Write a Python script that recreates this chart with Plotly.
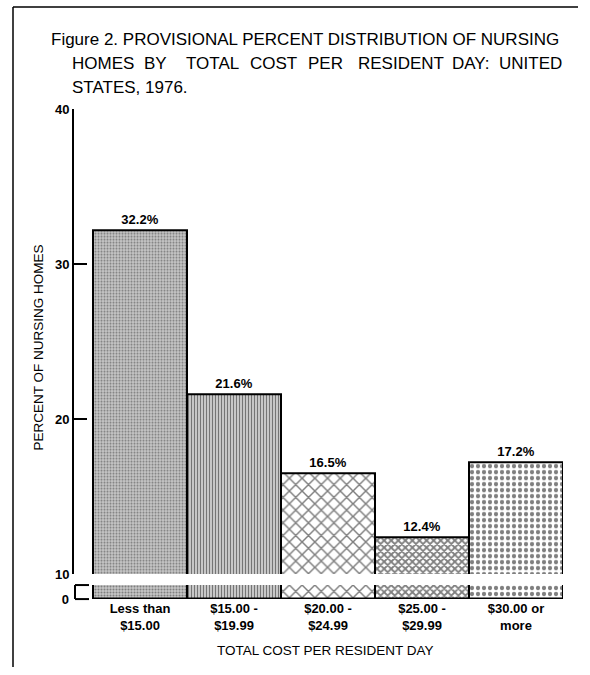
import plotly.graph_objects as go

categories = ["Less than<br>$15.00", "$15.00 -<br>$19.99", "$20.00 -<br>$24.99",
              "$25.00 -<br>$29.99", "$30.00 or<br>more"]
values = [32.2, 21.6, 16.5, 12.4, 17.2]
value_labels = ["32.2%", "21.6%", "16.5%", "12.4%", "17.2%"]
upper_ticks = [10, 20, 30, 40]
lower_ticks = [0]
lower_ticktext = ["0"]

title_line1 = "Figure 2. PROVISIONAL PERCENT DISTRIBUTION OF NURSING"
title_line2_words = ["HOMES", "BY", "TOTAL", "COST", "PER", "RESIDENT", "DAY:", "UNITED"]
title_line3 = "STATES, 1976."

W, H = 590, 675
FONT = "Liberation Sans, Arial, sans-serif"

patterns = [
    dict(shape=".", size=3, solidity=0.4, fgcolor="#333", bgcolor="#c8c8c8"),
    dict(shape="|", size=3, solidity=0.45, fgcolor="#111", bgcolor="#d8d8d8"),
    dict(shape="x", size=9, solidity=0.3, fgcolor="#000", bgcolor="#fff"),
    dict(shape="x", size=5, solidity=0.6, fgcolor="#000", bgcolor="#fff"),
    dict(shape=".", size=6, solidity=0.4, fgcolor="#000", bgcolor="#fff"),
]

def py(y):  # target pixel from top -> paper fraction (compensated)
    yy = (y - 6) / 0.976
    return 1 - yy / H

def px(x):
    return x / W

fig = go.Figure()
for i, (c, v) in enumerate(zip(categories, values)):
    fig.add_trace(go.Bar(
        x=[c], y=[v], xaxis="x", yaxis="y",
        text=[value_labels[i]], textposition="outside",
        textfont=dict(family=FONT, size=13, color="#000", weight="bold"),
        cliponaxis=False,
        marker=dict(color="#fff", pattern=patterns[i], line=dict(color="#000", width=2)),
        showlegend=False, hoverinfo="skip"))
    fig.add_trace(go.Bar(
        x=[c], y=[v], xaxis="x", yaxis="y2",
        marker=dict(color="#fff", pattern=patterns[i], line=dict(color="#000", width=2)),
        showlegend=False, hoverinfo="skip"))

fig.update_layout(
    width=W, height=H, margin=dict(l=0, r=0, t=0, b=0),
    paper_bgcolor="#fff", plot_bgcolor="rgba(0,0,0,0)",
    bargap=0, barmode="overlay",
    font=dict(family=FONT, color="#000"),
    xaxis=dict(domain=[px(73), px(563)], range=[-0.5 - 20 / 94, 4.5],
               anchor="y2", showgrid=False, zeroline=False, showline=False,
               ticks="", tickfont=dict(family=FONT, size=13, weight="bold"),
               categoryorder="array", categoryarray=categories),
    yaxis=dict(domain=[py(572), py(108)], range=[10, 40], anchor="free",
               position=px(73), showgrid=False, zeroline=False,
               showline=True, linecolor="#000", linewidth=2,
               ticks="inside", ticklen=13, tickwidth=2, tickcolor="#000",
               tickvals=upper_ticks, tickfont=dict(family=FONT, size=13, weight="bold")),
    yaxis2=dict(domain=[py(597), py(583)], range=[0, 10], anchor="free",
                position=px(75), showgrid=False, zeroline=False,
                showline=False, ticks="", ticklabelstandoff=6,
                tickvals=lower_ticks, ticktext=lower_ticktext,
                tickfont=dict(family=FONT, size=13, weight="bold")),
)

# baseline under the bars
fig.add_shape(type="line", xref="x", yref="y2", x0=-0.5, x1=len(categories) - 0.5,
              y0=0, y1=0, line=dict(color="#000", width=3))

# axis-break bracket on the lower strip
bk = dict(color="#000", width=2)
fig.add_shape(type="line", xref="paper", yref="y2 domain", x0=px(75), x1=px(75),
              y0=0, y1=1, line=bk)
fig.add_shape(type="line", xref="paper", yref="y2 domain", x0=px(75), x1=px(89),
              y0=1, y1=1, line=bk)
fig.add_shape(type="line", xref="paper", yref="y2 domain", x0=px(75), x1=px(89),
              y0=0, y1=0, line=bk)

# frame
fig.add_shape(type="line", xref="paper", yref="paper", x0=px(13), x1=px(13),
              y0=py(6), y1=0, line=dict(color="#000", width=1.5))
fig.add_shape(type="line", xref="paper", yref="paper", x0=px(13), x1=px(578),
              y0=py(6), y1=py(6), line=dict(color="#000", width=1.5))

# title
tfont = dict(family=FONT, size=17, color="#000")
fig.add_annotation(text=title_line1, xref="paper", yref="paper", x=px(49), y=py(38),
                   xanchor="left", yanchor="middle", showarrow=False, font=tfont)
word_x = [70, 142, 184, 248, 306, 356, 450, 497]
for w, x in zip(title_line2_words, word_x):
    fig.add_annotation(text=w, xref="paper", yref="paper", x=px(x), y=py(62),
                       xanchor="left", yanchor="middle", showarrow=False, font=tfont)
fig.add_annotation(text=title_line3, xref="paper", yref="paper", x=px(70), y=py(86),
                   xanchor="left", yanchor="middle", showarrow=False, font=tfont)

fig.add_annotation(text="PERCENT OF NURSING HOMES", xref="paper", yref="paper",
                   x=px(39), y=py(346), textangle=-90, showarrow=False,
                   xanchor="center", yanchor="middle",
                   font=dict(family=FONT, size=13.5, color="#000"))
fig.add_annotation(text="TOTAL COST PER RESIDENT DAY", xref="paper", yref="paper",
                   x=px(325), y=py(648), showarrow=False,
                   xanchor="center", yanchor="middle",
                   font=dict(family=FONT, size=13.5, color="#000"))

post = ("document.documentElement.style.margin='0';document.body.style.margin='0';"
        "document.documentElement.style.overflow='hidden';document.body.style.overflow='hidden';"
        "var g=document.getElementById('{plot_id}');g.style.position='absolute';"
        "g.style.left='0px';g.style.top='0px';")
fig.write_html("out.html", config={"displayModeBar": False}, post_script=post)
